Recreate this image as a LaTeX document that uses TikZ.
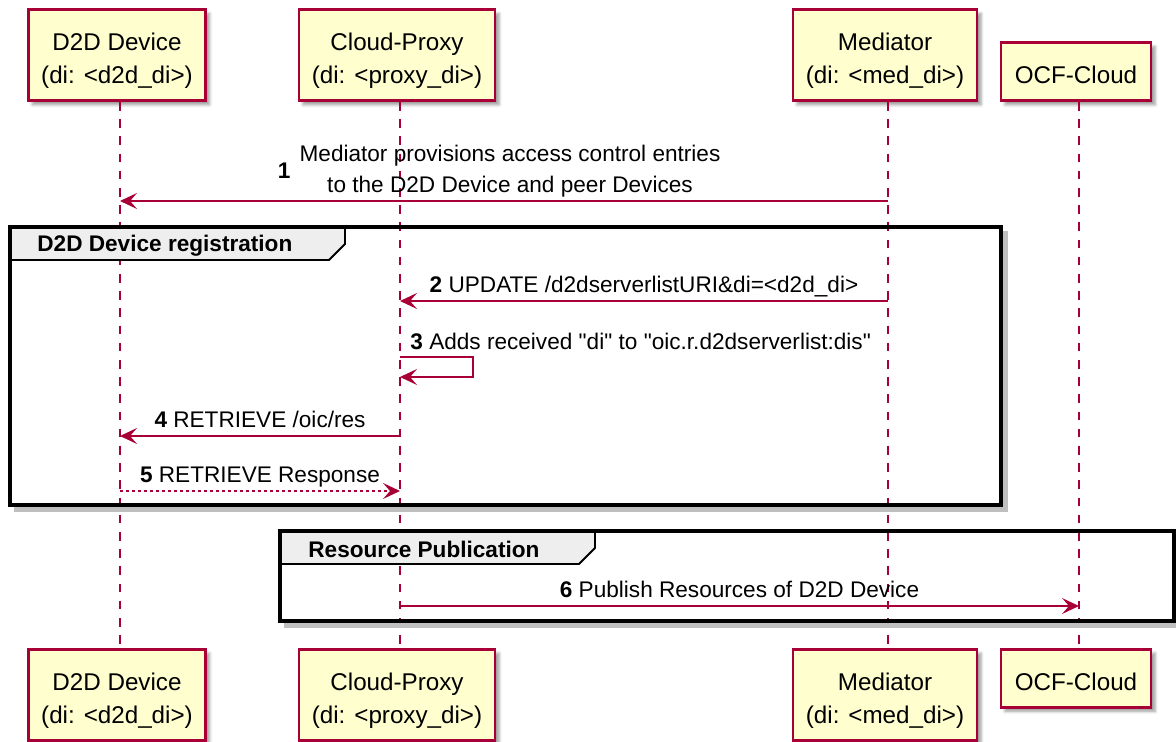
\documentclass[tikz,border=0pt]{standalone}
\usepackage{fontspec}
\newfontfamily\umlfont{Liberation Sans}
\usetikzlibrary{arrows.meta,shadows.blur,positioning}

\definecolor{umlred}{HTML}{A80036}
\definecolor{umlfill}{HTML}{FEFECE}
\definecolor{umltab}{HTML}{EEEEEE}
\newcommand\topgap{\rule{0pt}{11.8pt}}

\tikzset{
  actor/.style={draw=umlred, fill=umlfill, line width=1.3pt, align=center, inner sep=0pt,
    font=\umlfont\fontsize{12.1}{16.5}\selectfont, text depth=0pt,
    blur shadow={shadow xshift=2pt, shadow yshift=-2pt, shadow blur radius=1.5pt, shadow opacity=40}},
  lifeline/.style={draw=umlred, line width=0.8pt, dash pattern=on 4.3pt off 4.3pt},
  msg/.style={draw=umlred, line width=0.85pt, -{Stealth[length=8.5pt,width=8pt,inset=3.5pt]}},
  reply/.style={msg, dash pattern=on 1.5pt off 1.5pt},
  msgtext/.style={font=\umlfont\fontsize{11.3}{15.5}\selectfont, above, inner sep=2pt, text depth=1.6pt, align=center},
  num/.style={font=\umlfont\bfseries\fontsize{11.3}{15.5}\selectfont, inner sep=0pt},
  frame/.style={draw=black, line width=1.75pt},
  frameshadow/.style={draw=black!25, line width=2.5pt},
  tabline/.style={draw=black, line width=0.9pt},
  grouptitle/.style={font=\umlfont\bfseries\fontsize{11.3}{14}\selectfont, anchor=west, inner sep=0pt}
}

\begin{document}
\begin{tikzpicture}[x=0.5pt,y=-0.5pt]
\useasboundingbox (0,0) rectangle (1176,742);
\foreach \n/\x/\w/\h/\t in {dev/120/88.5pt/45.5pt/{\topgap D2D Device\\(di: <d2d\_di>)},
    proxy/400/98pt/45.5pt/{\topgap Cloud-Proxy\\(di: <proxy\_di>)},
    med/888/92pt/45.5pt/{\topgap Mediator\\(di: <med\_di>)},
    cloud/1079/75pt/29pt/{\topgap OCF-Cloud}} {
  \node[actor, minimum width=\w, minimum height=\h, anchor=south] (\n-top) at (\x-3,102) {\t};
  \node[actor, minimum width=\w, minimum height=\h, anchor=north] (\n-bot) at (\x-3,648) {\t};
  \draw[lifeline] ([xshift=1.5pt]\n-top.south) -- ([xshift=1.5pt]\n-bot.north);
  \coordinate (\n) at (\x,0);
}
\coordinate (r1) at (0,201);
\coordinate (r2) at (0,301);
\coordinate (r3a) at (0,357);
\coordinate (r3b) at (0,377);
\coordinate (r4) at (0,436);
\coordinate (r5) at (0,491);
\coordinate (r6) at (0,606);
% D2D Device registration
\fill[umltab] (10,227) -- (345,227) -- (345,244) -- (329,260) -- (10,260) -- cycle;
\draw[tabline] (345,227) -- (345,244) -- (329,260) -- (10,260);
\draw[frameshadow] (1005,231) -- (1005,509) -- (14,509);
\draw[frame] (10,227) rectangle (1001,505);
\node[grouptitle] (g1) at (37,246) {D2D Device registration};
% Resource Publication
\fill[umltab] (280,531) -- (595,531) -- (595,548) -- (579,564) -- (280,564) -- cycle;
\draw[tabline] (595,531) -- (595,548) -- (579,564) -- (280,564);
\draw[frameshadow] (284,625) -- (1176,625);
\draw[frame] (280,531) rectangle (1174,621);
\node[grouptitle] (g2) at (308,549) {Resource Publication};
% messages
\draw[msg] (med |- r1) -- node[msgtext, xshift=3pt] (t1) {Mediator provisions access control entries\\to the D2D Device and peer Devices} (dev |- r1);
\node[num, left=2pt of t1] (n1) {1};
\draw[msg] (med |- r2) -- node[msgtext] (t2) {\textbf{2} UPDATE /d2dserverlistURI\&di=<d2d\_di>} (proxy |- r2);
\draw[msg] (proxy |- r3a) -- ++(73,0) -- ++(0,20) -- (proxy |- r3b);
\node[msgtext, anchor=south west] (t3) at (406,357) {\textbf{3} Adds received "di" to "oic.r.d2dserverlist:dis"};
\draw[msg] (proxy |- r4) -- node[msgtext] (t4) {\textbf{4} RETRIEVE /oic/res} (dev |- r4);
\draw[reply] (dev |- r5) -- node[msgtext] (t5) {\textbf{5} RETRIEVE Response} (proxy |- r5);
\draw[msg] (proxy |- r6) -- node[msgtext] (t6) {\textbf{6} Publish Resources of D2D Device} (cloud |- r6);
\end{tikzpicture}
\end{document}
